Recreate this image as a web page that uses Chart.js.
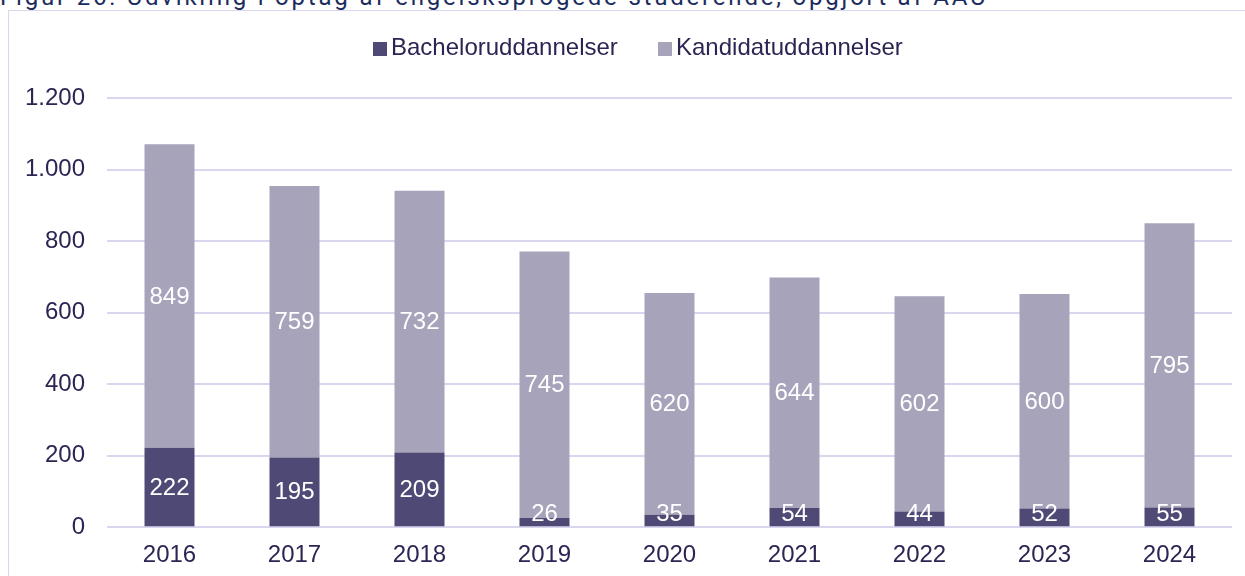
<!DOCTYPE html>
<html>
<head>
<meta charset="utf-8">
<script src="https://cdn.jsdelivr.net/npm/chart.js@4"></script>
<style>
    html, body { margin: 0; padding: 0; background: #fff; overflow: hidden; }
    body { width: 1245px; height: 576px; position: relative; font-family: 'Liberation Sans', Arial, sans-serif; }
    .title {
        position: absolute; left: 0; top: -15px; white-space: nowrap;
        font-family: Roboto, 'Liberation Sans', sans-serif; font-size: 24px; line-height: 24px;
        letter-spacing: 2.8px; color: #1d2c5e;
    }
    .frame {
        position: absolute; left: 8px; top: 10px; width: 1260px; height: 600px;
        border: 1px solid #d9d6ef; box-sizing: border-box;
    }
    #wrap { position: absolute; left: 0; top: 0; width: 1245px; height: 576px; }
    .legend { position: absolute; top: 33px; height: 28px; line-height: 28px; font-size: 24px; color: #2b2553; white-space: nowrap; }
    .legend i { display: inline-block; width: 14px; height: 14px; margin-right: 4px; vertical-align: -1px; }
</style>
</head>
<body>
<div class="title">Figur 26: Udvikling i optag af engelsksprogede studerende, opgjort af AAU</div>
<div class="frame"></div>
<div id="wrap"><canvas id="chart"></canvas></div>
<div id="legend"></div>
<script>
// Data
const years = ['2016', '2017', '2018', '2019', '2020', '2021', '2022', '2023', '2024'];
const bachelor = [222, 195, 209, 26, 35, 54, 44, 52, 55];
const kandidat = [849, 759, 732, 745, 620, 644, 602, 600, 795];
const seriesNames = ['Bacheloruddannelser', 'Kandidatuddannelser'];
const seriesColors = ['#4f4a75', '#a7a3ba'];
const yTicks = [0, 200, 400, 600, 800, 1000, 1200];

const textColor = '#2b2553';
const fontFam = '"Liberation Sans", Arial, sans-serif';

// Forklaring som HTML
const legendX = [373, 658];
document.getElementById('legend').innerHTML = seriesNames.map((name, i) =>
    `<div class="legend" style="left:${legendX[i]}px"><i style="background:${seriesColors[i]}"></i>${name}</div>`
).join('');

// Tal i midten af hvert segment (holdes inden for plotområdet)
const barLabels = {
    id: 'barLabels',
    afterDatasetsDraw(chart) {
        const ctx = chart.ctx;
        const bottom = chart.chartArea.bottom;
        ctx.save();
        ctx.font = '24px ' + fontFam;
        ctx.fillStyle = '#ffffff';
        ctx.textAlign = 'center';
        ctx.textBaseline = 'middle';
        chart.data.datasets.forEach((ds, i) => {
            chart.getDatasetMeta(i).data.forEach((bar, j) => {
                const mid = Math.min((bar.y + bar.base) / 2 + 1, bottom - 13);
                ctx.fillText(String(ds.data[j]), bar.x, mid);
            });
        });
        ctx.restore();
    }
};

new Chart(document.getElementById('chart'), {
    type: 'bar',
    data: {
        labels: years,
        datasets: [
            { label: seriesNames[0], data: bachelor, backgroundColor: seriesColors[0] },
            { label: seriesNames[1], data: kandidat, backgroundColor: seriesColors[1] }
        ]
    },
    options: {
        responsive: true,
        maintainAspectRatio: false,
        animation: false,
        datasets: { bar: { categoryPercentage: 1, barPercentage: 0.4 } },
        layout: { padding: { left: 0, right: 13, top: 98, bottom: 0 } },
        plugins: {
            tooltip: { enabled: false },
            legend: { display: false }
        },
        scales: {
            x: {
                stacked: true,
                grid: { display: false },
                border: { display: false },
                ticks: { color: textColor, font: { size: 24, family: fontFam }, padding: 6 }
            },
            y: {
                stacked: true,
                min: 0, max: 1200,
                afterBuildTicks: s => { s.ticks = yTicks.map(v => ({ value: v })); },
                afterFit: s => { s.width = 107; },
                grid: { color: '#d9d6ef', lineWidth: 2, drawTicks: false },
                border: { display: false },
                ticks: {
                    color: textColor, padding: 22,
                    font: { size: 24, family: fontFam },
                    callback: v => v.toLocaleString('de-DE')
                }
            }
        }
    },
    plugins: [barLabels]
});
</script>
</body>
</html>
